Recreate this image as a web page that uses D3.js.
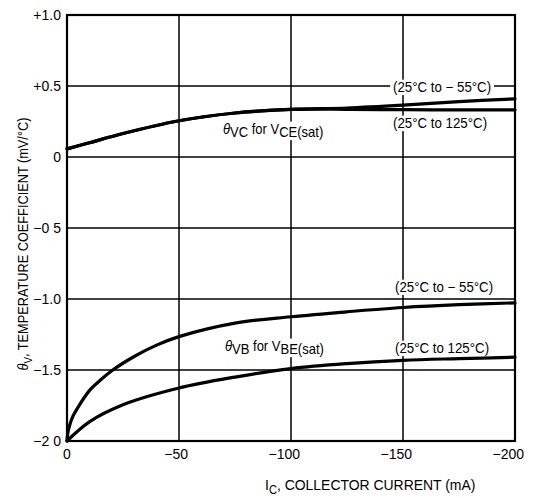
<!DOCTYPE html>
<html><head><meta charset="utf-8">
<script src="https://cdnjs.cloudflare.com/ajax/libs/d3/7.8.5/d3.min.js"></script>
<style>
html,body{margin:0;padding:0;background:#fff;}
svg{display:block;font-family:"Liberation Sans",Arial,sans-serif;}
</style></head><body>
<svg id="c" width="534" height="498"></svg>
<script>
// Data
const xTicks = [0, -50, -100, -150, -200];
const xTickLabels = ["0", "\u221250", "\u2212100", "\u2212150", "\u2212200"];
const yTicks = [1.0, 0.5, 0, -0.5, -1.0, -1.5, -2.0];
const yTickLabels = ["+1.0", "+0.5", "0", "\u22120 5", "\u22121.0", "\u22121.5", "\u22122 0"];

const vcColdX = [0, -10, -25, -50, -75, -100, -125, -150, -175, -200];
const vcColdY = [0.057, 0.10, 0.165, 0.255, 0.31, 0.335, 0.345, 0.365, 0.39, 0.41];
const vcHotX  = [0, -10, -25, -50, -75, -100, -125, -150, -175, -200];
const vcHotY  = [0.057, 0.10, 0.165, 0.255, 0.31, 0.335, 0.336, 0.333, 0.332, 0.332];

const vbColdX = [0, -0.3, -1, -2.5, -5, -10, -15, -20, -30, -40, -50, -75, -100, -125, -150, -175, -200];
const vbColdY = [-2.0, -1.95, -1.90, -1.83, -1.76, -1.645, -1.57, -1.505, -1.405, -1.325, -1.265, -1.17, -1.125, -1.09, -1.06, -1.04, -1.027];
const vbHotX  = [0, -10, -25, -50, -75, -100, -125, -150, -175, -200];
const vbHotY  = [-2.0, -1.865, -1.745, -1.627, -1.55, -1.49, -1.455, -1.432, -1.42, -1.41];

const svg = d3.select("#c");
const x = d3.scaleLinear().domain([0, -200]).range([67, 515]);
const y = d3.scaleLinear().domain([-2, 1]).range([441, 15]);

// grid
const g = svg.append("g");
g.selectAll("line.h").data(yTicks).join("line")
  .attr("x1", x(0)).attr("x2", x(-200)).attr("y1", d => y(d)).attr("y2", d => y(d))
  .attr("stroke", "#000").attr("stroke-width", 1.5);
g.selectAll("line.v").data(xTicks).join("line")
  .attr("x1", d => x(d)).attr("x2", d => x(d)).attr("y1", y(1)).attr("y2", y(-2))
  .attr("stroke", "#000").attr("stroke-width", 1.5);
// frame
svg.append("rect").attr("x", x(0)).attr("y", y(1)).attr("width", x(-200) - x(0)).attr("height", y(-2) - y(1))
  .attr("fill", "none").attr("stroke", "#000").attr("stroke-width", 2.2);

// curves
const line = d3.line().x(d => x(d[0])).y(d => y(d[1])).curve(d3.curveCatmullRom.alpha(0.5));
const series = [[vcColdX, vcColdY], [vcHotX, vcHotY], [vbColdX, vbColdY], [vbHotX, vbHotY]];
series.forEach(([xs, ys]) => {
  svg.append("path").attr("d", line(xs.map((v, i) => [v, ys[i]])))
    .attr("fill", "none").attr("stroke", "#000").attr("stroke-width", 3.2)
    .attr("stroke-linecap", "round");
});

// y tick labels
svg.selectAll("text.yt").data(yTicks).join("text")
  .attr("x", 61).attr("y", d => y(d)).attr("dy", "0.35em")
  .attr("text-anchor", "end").attr("font-size", 14).text((d, i) => yTickLabels[i]);
// x tick labels
svg.selectAll("text.xt").data(xTicks).join("text")
  .attr("x", d => d === 0 ? x(d) : x(d) + 9).attr("y", 459)
  .attr("text-anchor", d => d === 0 ? "middle" : "end").attr("font-size", 14)
  .text((d, i) => xTickLabels[i]);

// axis titles
const xt = svg.append("text").attr("transform", "translate(265,490) scale(0.93,1)").attr("font-size", 15);
xt.append("tspan").text("I");
xt.append("tspan").attr("dy", 4).attr("font-size", 12).text("C");
xt.append("tspan").attr("dy", -4).text(", COLLECTOR CURRENT (mA)");

const yt = svg.append("text").attr("transform", "translate(28,244) rotate(-90) scale(0.88,1)")
  .attr("text-anchor", "middle").attr("font-size", 14.5);
yt.append("tspan").attr("font-style", "italic").text("\u03B8");
yt.append("tspan").attr("dy", 4).attr("font-size", 11).text("V");
yt.append("tspan").attr("dy", -4).text(", TEMPERATURE COEFFICIENT (mV/\u00B0C)");

// annotations with white background
function label(xp, yp, parts, size, sx) {
  const t = svg.append("text").attr("transform", `translate(${xp},${yp}) scale(${sx},1)`).attr("font-size", size);
  parts.forEach(p => {
    const s = t.append("tspan").text(p.t);
    if (p.dy) s.attr("dy", p.dy);
    if (p.fs) s.attr("font-size", p.fs);
    if (p.it) s.attr("font-style", "italic");
  });
  const b = t.node().getBBox();
  svg.insert("rect", function(){ return t.node(); })
    .attr("x", xp + (b.x - 3) * sx).attr("y", yp + b.y).attr("width", (b.width + 6) * sx).attr("height", b.height)
    .attr("fill", "#fff");
  return t;
}
label(393, 92, [{t: "(25\u00B0C to  \u2212 55\u00B0C)"}], 14, 0.95);
label(393, 128, [{t: "(25\u00B0C to 125\u00B0C)"}], 14, 0.95);
label(223, 134, [{t: "\u03B8", it: 1}, {t: "VC", dy: 3}, {t: " for V", dy: -3}, {t: "CE(sat)", dy: 3}], 14, 0.93);
label(395, 292, [{t: "(25\u00B0C to  \u2212 55\u00B0C)"}], 14, 0.95);
label(395, 353, [{t: "(25\u00B0C to 125\u00B0C)"}], 14, 0.95);
label(225, 351, [{t: "\u03B8", it: 1}, {t: "VB", dy: 3}, {t: " for V", dy: -3}, {t: "BE(sat)", dy: 3}], 14, 0.93);
</script>
</body></html>
